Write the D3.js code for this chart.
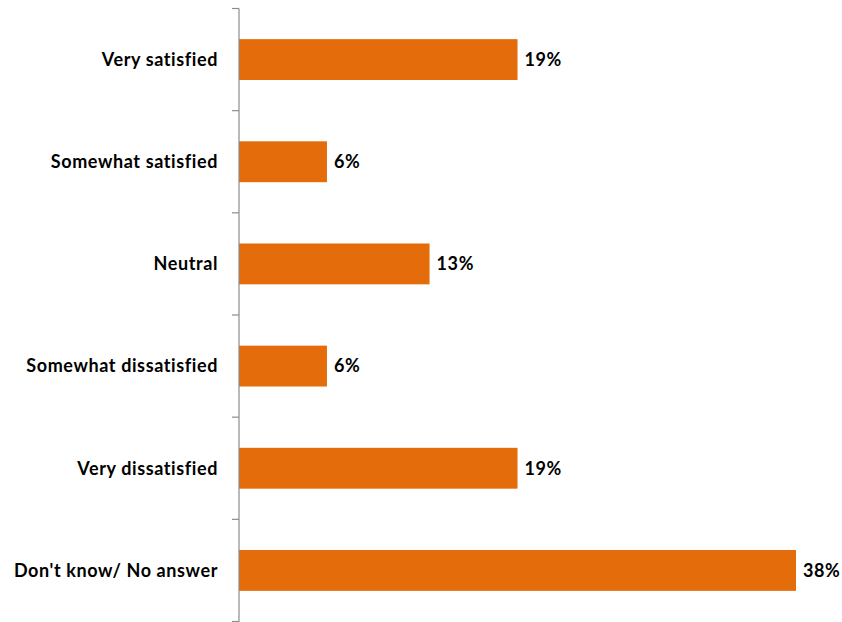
<!DOCTYPE html>
<html>
<head>
<meta charset="utf-8">
<script src="https://cdn.jsdelivr.net/npm/d3@7"></script>
<style>
  html, body { margin: 0; padding: 0; background: #fff; }
  svg text { font-family: Lato, "Open Sans", sans-serif; font-weight: bold; fill: #000; letter-spacing: 0.6px; }
</style>
</head>
<body>
<svg id="chart" width="842" height="622"></svg>
<script>
// Satisfaction categories, top to bottom
const categories = [
  "Very satisfied",
  "Somewhat satisfied",
  "Neutral",
  "Somewhat dissatisfied",
  "Very dissatisfied",
  "Don't know/ No answer"
];
// Share of respondents, percent
const values = [19, 6, 13, 6, 19, 38];

const svg = d3.select("#chart");
const axisX = 239;

const y = d3.scaleBand()
  .domain(categories)
  .range([8.5, 621.5])
  .paddingInner(0.6)
  .paddingOuter(0.3);

const x = d3.scaleLinear()
  .domain([0, 38])
  .range([axisX, 796]);

const data = categories.map((c, i) => ({ category: c, value: values[i] }));

// Bars
svg.append("g")
  .selectAll("rect")
  .data(data)
  .join("rect")
  .attr("x", x(0))
  .attr("y", d => y(d.category))
  .attr("width", d => x(d.value) - x(0))
  .attr("height", y.bandwidth())
  .attr("fill", "#E46C0A");

// Value labels
svg.append("g")
  .selectAll("text")
  .data(data)
  .join("text")
  .attr("x", d => x(d.value) + 7)
  .attr("y", d => y(d.category) + y.bandwidth() / 2)
  .attr("dy", "0.35em")
  .attr("font-size", 18)
  .text(d => d.value + "%");

// Category axis with ticks at the band boundaries
const axisG = svg.append("g");
axisG.append("line")
  .attr("x1", axisX).attr("x2", axisX)
  .attr("y1", 8.5).attr("y2", 622)
  .attr("stroke", "#8c8c8c").attr("stroke-width", 1.2);
axisG.selectAll("line.tick")
  .data([8.5].concat(categories.slice(1).map(c => y(c) - (y.step() - y.bandwidth()) / 2), [621.5]))
  .join("line")
  .attr("class", "tick")
  .attr("x1", axisX - 7).attr("x2", axisX)
  .attr("y1", d => d).attr("y2", d => d)
  .attr("stroke", "#8c8c8c").attr("stroke-width", 1.2);

axisG.selectAll("text")
  .data(categories)
  .join("text")
  .attr("x", 218)
  .attr("y", d => y(d) + y.bandwidth() / 2)
  .attr("dy", "0.35em")
  .attr("text-anchor", "end")
  .attr("font-size", 18)
  .text(d => d);
</script>
</body>
</html>
